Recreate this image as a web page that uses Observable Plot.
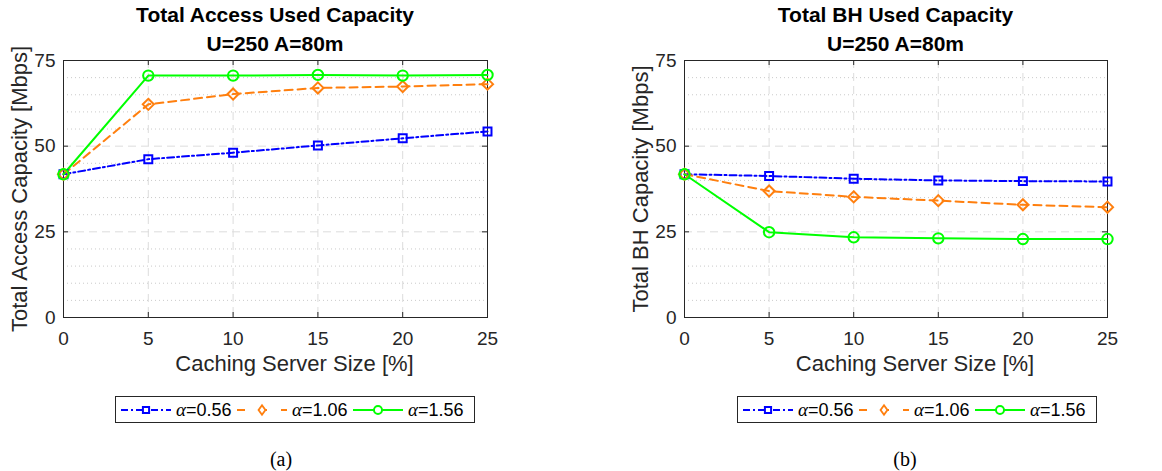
<!DOCTYPE html>
<html><head><meta charset="utf-8">
<script src="https://cdn.jsdelivr.net/npm/d3@7"></script>
<script src="https://cdn.jsdelivr.net/npm/@observablehq/plot@0.6"></script>
<style>
html,body{margin:0;padding:0;background:#fff;}
body{width:1162px;height:471px;position:relative;overflow:hidden;font-family:"Liberation Sans",Arial,Helvetica,sans-serif;}
.title{position:absolute;top:0;text-align:center;font-weight:bold;font-size:21px;line-height:29px;color:#000;white-space:nowrap;z-index:2;}
.panel{position:absolute;top:0;z-index:1;}
.legend{position:absolute;top:396px;height:25px;width:358px;border:1px solid #262626;background:#fff;display:flex;align-items:center;box-sizing:content-box;z-index:2;}
.item{display:flex;align-items:center;margin-left:5px;}
.item svg{display:block;}
.item span{margin-left:5px;font-size:18px;color:#000;white-space:nowrap;width:56px;}
.item i{font-family:"Liberation Serif","Times New Roman",serif;font-style:italic;font-size:19px;}
.caption{position:absolute;top:447px;font-family:"Liberation Serif","Times New Roman",serif;font-size:20px;line-height:24px;color:#000;text-align:center;width:60px;}
</style></head><body>
<script>
// ---- data ----
const cacheSize = [0, 5, 10, 15, 20, 25];
const seriesNames = ["0.56", "1.06", "1.56"];
const accessA056 = [41.8, 46.2, 48.1, 50.2, 52.3, 54.3];
const accessA106 = [41.8, 62.2, 65.2, 67.0, 67.4, 68.1];
const accessA156 = [41.8, 70.6, 70.6, 70.8, 70.6, 70.8];
const bhA056 = [41.8, 41.3, 40.5, 40.0, 39.8, 39.7];
const bhA106 = [41.8, 36.9, 35.2, 34.1, 32.9, 32.2];
const bhA156 = [41.8, 24.9, 23.4, 23.1, 22.9, 22.9];
const xTicks = [0, 5, 10, 15, 20, 25];
const yTicks = [0, 25, 50, 75];
const yMinorTicks = [5, 10, 15, 20, 30, 35, 40, 45, 55, 60, 65, 70];
const titlesA = ["Total Access Used Capacity", "U=250 A=80m"];
const titlesB = ["Total BH Used Capacity", "U=250 A=80m"];
const xLabel = "Caching Server Size [%]";
const yLabelA = "Total Access Capacity [Mbps]";
const yLabelB = "Total BH Capacity [Mbps]";

// ---- styles ----
const colors = ["#0000ff", "#ff7f0e", "#00ff00"];
const dashes = ["7,3,2,3", "8,5", null];
const symbols = ["square", "diamond2", "circle"];
const radii = [4.5, 5, 5.2];
const axisColor = "#262626";
const W = 581, H = 392, MT = 60, MB = 75;

function panel(left, marginLeft, marginRight, titles, yLabel, series, caption, legendLeft, captionCenter) {
  const plotW = W - marginLeft - marginRight;
  const plotH = H - MT - MB;
  const t = document.createElement("div");
  t.className = "title";
  t.style.left = (left + marginLeft - 100) + "px";
  t.style.width = (plotW + 200) + "px";
  t.innerHTML = titles.join("<br>");
  document.body.appendChild(t);

  const marks = [
    Plot.gridY(yMinorTicks, {stroke: "#bdbdbd", strokeOpacity: 1, strokeDasharray: "1,3", strokeWidth: 0.8}),
    Plot.gridY(yTicks, {stroke: "#dcdcdc", strokeOpacity: 1, strokeDasharray: "8,5", strokeWidth: 1}),
    Plot.gridX(xTicks, {stroke: "#dcdcdc", strokeOpacity: 1, strokeDasharray: "8,5", strokeWidth: 1}),
    Plot.tickX(xTicks, {x: d => d, insetTop: plotH - 5, stroke: axisColor}),
    Plot.tickX(xTicks, {x: d => d, insetBottom: plotH - 5, stroke: axisColor}),
    Plot.tickY(yTicks, {y: d => d, insetRight: plotW - 5, stroke: axisColor}),
    Plot.tickY(yTicks, {y: d => d, insetLeft: plotW - 5, stroke: axisColor}),
    Plot.frame({stroke: axisColor, strokeWidth: 1}),
    Plot.axisX(xTicks, {tickSize: 0, tickPadding: 14, fontSize: 19, fill: axisColor, label: null}),
    Plot.axisY(yTicks, {tickSize: 0, tickPadding: 8, fontSize: 19, fill: axisColor, label: null}),
    Plot.text([xLabel], {text: d => d, frameAnchor: "bottom", textAnchor: "middle", dx: 19, dy: 53, fontSize: 22, fill: axisColor}),
    Plot.text([yLabel], {text: d => d, frameAnchor: "left", textAnchor: "middle", rotate: -90, dx: -44, fontSize: 22, fill: axisColor})
  ];
  series.forEach((vals, i) => {
    const data = cacheSize.map((x, j) => ({x, y: vals[j]}));
    marks.push(Plot.line(data, {x: "x", y: "y", stroke: colors[i], strokeWidth: 2, strokeDasharray: dashes[i] || undefined}));
  });
  series.forEach((vals, i) => {
    const data = cacheSize.map((x, j) => ({x, y: vals[j]}));
    marks.push(Plot.dot(data, {x: "x", y: "y", stroke: colors[i], strokeWidth: 2, fill: "none", symbol: () => symbols[i], r: radii[i]}));
  });

  const svg = Plot.plot({
    width: W, height: H, marginTop: MT, marginBottom: MB, marginLeft, marginRight,
    x: {domain: [0, 25]},
    y: {domain: [0, 75]},
    symbol: {type: "identity"},
    style: {fontFamily: '"Liberation Sans", Arial, Helvetica, sans-serif', fontSize: "19px", color: axisColor, background: "transparent", overflow: "visible"},
    marks
  });
  const wrap = document.createElement("div");
  wrap.className = "panel";
  wrap.style.left = left + "px";
  wrap.appendChild(svg);
  document.body.appendChild(wrap);

  // legend
  const lg = document.createElement("div");
  lg.className = "legend";
  lg.style.left = legendLeft + "px";
  seriesNames.forEach((name, i) => {
    const item = document.createElement("div");
    item.className = "item";
    const s = d3.create("svg").attr("width", 50).attr("height", 14);
    s.append("line").attr("x1", 0).attr("x2", 50).attr("y1", 7).attr("y2", 7)
      .attr("stroke", colors[i]).attr("stroke-width", 2).attr("stroke-dasharray", dashes[i] ? (i === 0 ? "7,3,2,3" : "8,14") : null);
    const symType = {square: d3.symbolSquare, diamond2: d3.symbolDiamond2, circle: d3.symbolCircle}[symbols[i]];
    s.append("path").attr("transform", "translate(25,7)" + (i === 1 ? " scale(0.8,1.1)" : ""))
      .attr("d", d3.symbol(symType, Math.PI * radii[i] * radii[i] * 0.6)())
      .attr("fill", "#fff").attr("stroke", colors[i]).attr("stroke-width", 2);
    item.appendChild(s.node());
    const sp = document.createElement("span");
    sp.innerHTML = "<i>α</i>=" + name;
    item.appendChild(sp);
    lg.appendChild(item);
  });
  document.body.appendChild(lg);

  const c = document.createElement("div");
  c.className = "caption";
  c.style.left = (captionCenter - 30) + "px";
  c.textContent = caption;
  document.body.appendChild(c);
}

panel(0, 63, 94, titlesA, yLabelA, [accessA056, accessA106, accessA156], "(a)", 115, 281);
panel(581, 103, 55, titlesB, yLabelB, [bhA056, bhA106, bhA156], "(b)", 737, 905);
</script>
</body></html>
